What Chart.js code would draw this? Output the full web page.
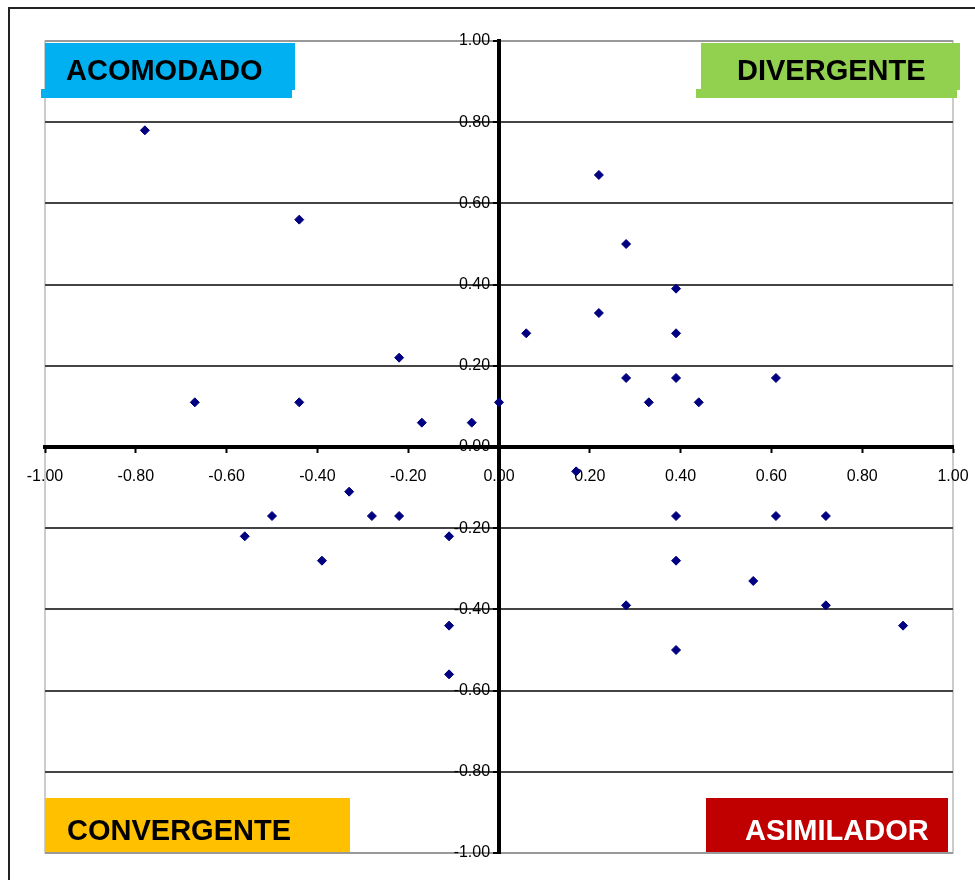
<!DOCTYPE html>
<html>
<head>
<meta charset="utf-8">
<script src="https://cdn.jsdelivr.net/npm/chart.js@4"></script>
<style>
  body { margin: 0; background: #fff; }
  #grafico { display: block; }
</style>
</head>
<body>
<canvas id="grafico" width="975" height="880"></canvas>
<script>
// valores X (procesamiento) y Y (percepcion) de cada alumno
let puntosX = [-0.78, -0.44, -0.22, -0.67, -0.44, -0.17, -0.06, 0.00,
    -0.33, -0.50, -0.28, -0.22, -0.56, -0.11, -0.39, -0.11, -0.11,
    0.22, 0.28, 0.39, 0.06, 0.22, 0.39, 0.28, 0.39, 0.61, 0.33, 0.44,
    0.17, 0.39, 0.61, 0.72, 0.39, 0.56, 0.28, 0.72, 0.39, 0.89]
let puntosY = [0.78, 0.56, 0.22, 0.11, 0.11, 0.06, 0.06, 0.11,
    -0.11, -0.17, -0.17, -0.17, -0.22, -0.22, -0.28, -0.44, -0.56,
    0.67, 0.50, 0.39, 0.28, 0.33, 0.28, 0.17, 0.17, 0.17, 0.11, 0.11,
    -0.06, -0.17, -0.17, -0.17, -0.28, -0.33, -0.39, -0.39, -0.50, -0.44]
let ejeMin = -1
let ejeMax = 1
let ejePaso = 0.2
let cuadrantes = ['ACOMODADO', 'DIVERGENTE', 'CONVERGENTE', 'ASIMILADOR']

let fuente = '"Liberation Sans", Arial, sans-serif'
let corPunto = '#000080'

// cajas de los estilos (posicion en pixeles, solo decoracion)
let cajas = [
    { color: '#00B0F0', texto: '#000', rects: [[45, 43, 250, 47], [41, 89, 251, 9]], tx: 66, ty: 80 },
    { color: '#92D050', texto: '#000', rects: [[701, 43, 259, 47], [696, 89, 261, 9]], tx: 737, ty: 80 },
    { color: '#FFC000', texto: '#000', rects: [[45, 798, 305, 54]], tx: 67, ty: 840 },
    { color: '#C00000', texto: '#fff', rects: [[706, 798, 242, 54]], tx: 745, ty: 840 }
]

let datos = puntosX.map(function (x, i) {
    return { x: x, y: puntosY[i] }
})

const marco = {
    id: 'marco',
    beforeDraw(chart) {
        const c = chart.ctx
        const a = chart.chartArea
        c.save()
        c.fillStyle = '#fff'
        c.fillRect(0, 0, chart.width, chart.height)
        c.strokeStyle = '#222'
        c.lineWidth = 2
        c.beginPath()
        c.moveTo(9, 880)
        c.lineTo(9, 8)
        c.lineTo(975, 8)
        c.stroke()
        c.strokeStyle = '#999'
        c.lineWidth = 1
        c.strokeRect(a.left, a.top, a.right - a.left, a.bottom - a.top)
        c.restore()
    },
    afterDraw(chart) {
        const c = chart.ctx
        c.save()
        c.font = 'bold 29px ' + fuente
        c.textBaseline = 'alphabetic'
        cajas.forEach(function (b, i) {
            c.fillStyle = b.color
            b.rects.forEach(function (r) {
                c.fillRect(r[0], r[1], r[2], r[3])
            })
            c.fillStyle = b.texto
            c.fillText(cuadrantes[i], b.tx, b.ty)
        })
        c.restore()
    }
}

const ctx = document.getElementById('grafico').getContext('2d')
let myChart = new Chart(ctx, {
    type: 'scatter',
    data: {
        datasets: [{
            label: 'Alumnos',
            data: datos,
            pointStyle: 'rectRot',
            pointRadius: 4.5,
            pointBackgroundColor: corPunto,
            pointBorderColor: corPunto,
            pointBorderWidth: 1
        }]
    },
    options: {
        responsive: false,
        animation: false,
        layout: {
            padding: { left: 45, top: 41, right: 22, bottom: 27 }
        },
        plugins: {
            legend: { display: false },
            tooltip: { enabled: false }
        },
        scales: {
            x: {
                type: 'linear',
                position: { y: 0 },
                min: ejeMin,
                max: ejeMax,
                // el padding de las etiquetas no debe encoger el area
                afterFit: function (scale) {
                    scale.paddingLeft = 0
                    scale.paddingRight = 0
                },
                border: { color: '#000', width: 4 },
                grid: {
                    drawOnChartArea: false,
                    drawTicks: true,
                    tickLength: 4,
                    tickColor: '#000',
                    tickWidth: 2
                },
                ticks: {
                    stepSize: ejePaso,
                    autoSkip: false,
                    maxRotation: 0,
                    padding: 16,
                    color: '#000',
                    font: { family: fuente, size: 16 },
                    callback: function (v) { return Number(v).toFixed(2) }
                }
            },
            y: {
                type: 'linear',
                position: { x: 0 },
                min: ejeMin,
                max: ejeMax,
                afterFit: function (scale) {
                    scale.paddingTop = 0
                    scale.paddingBottom = 0
                },
                border: { color: '#000', width: 4 },
                grid: {
                    color: function (c) {
                        if (c.tick && (Math.abs(c.tick.value) > 0.99)) return '#999'
                        return '#444'
                    },
                    lineWidth: 2,
                    drawTicks: true,
                    tickLength: 4,
                    tickColor: '#000'
                },
                ticks: {
                    stepSize: ejePaso,
                    autoSkip: false,
                    padding: 4,
                    color: '#000',
                    font: { family: fuente, size: 16 },
                    // espacios para separar el texto del eje
                    callback: function (v) { return Number(v).toFixed(2) + '  ' }
                }
            }
        }
    },
    plugins: [marco]
})
</script>
</body>
</html>
